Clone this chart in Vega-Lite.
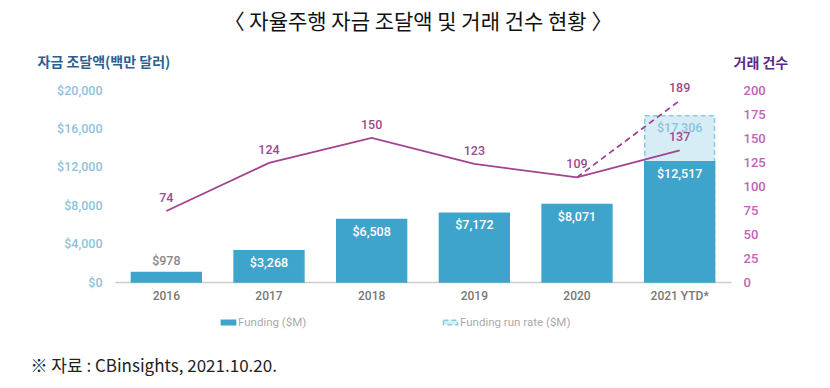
{
  "$schema": "https://vega.github.io/schema/vega-lite/v6.json",
  "autosize": "none",
  "width": 616,
  "height": 192,
  "padding": {"left": 115, "top": 90, "right": 99, "bottom": 106},
  "background": "white",
  "config": {"view": {"stroke": null}, "axis": {"labelOverlap": false}},
  "title": {
    "text": "〈 자율주행 자금 조달액 및 거래 건수 현황 〉",
    "anchor": "middle",
    "font": "Noto Sans CJK KR",
    "fontSize": 21,
    "fontWeight": "normal",
    "color": "#111",
    "offset": 22,
    "dx": -5
  },
  "datasets": {
    "bars": [
      {"year": "2021 YTD*", "type": "Funding run rate ($M)", "value": 17306},
      {"year": "2016", "type": "Funding ($M)", "value": 978},
      {"year": "2017", "type": "Funding ($M)", "value": 3268},
      {"year": "2018", "type": "Funding ($M)", "value": 6508},
      {"year": "2019", "type": "Funding ($M)", "value": 7172},
      {"year": "2020", "type": "Funding ($M)", "value": 8071},
      {"year": "2021 YTD*", "type": "Funding ($M)", "value": 12517}
    ],
    "counts": [
      {"year": "2016", "count": 74, "series": "actual"},
      {"year": "2017", "count": 124, "series": "actual"},
      {"year": "2018", "count": 150, "series": "actual"},
      {"year": "2019", "count": 123, "series": "actual"},
      {"year": "2020", "count": 109, "series": "actual"},
      {"year": "2021 YTD*", "count": 137, "series": "actual"},
      {"year": "2020", "count": 109, "series": "runrate"},
      {"year": "2021 YTD*", "count": 189, "series": "runrate"}
    ]
  },
  "encoding": {
    "x": {
      "field": "year",
      "type": "nominal",
      "sort": ["2016", "2017", "2018", "2019", "2020", "2021 YTD*"],
      "scale": {"paddingInner": 0.32, "paddingOuter": 0.16},
      "axis": {
        "labelAngle": 0,
        "ticks": false,
        "domainColor": "#cccccc",
        "domainWidth": 1.5,
        "labelColor": "#777777",
        "labelFont": "Roboto",
        "labelFontWeight": 500,
        "labelFontSize": 12,
        "labelPadding": 8,
        "title": "※ 자료 : CBinsights, 2021.10.20.",
        "titleFont": "Noto Sans CJK KR",
        "titleFontWeight": "normal",
        "titleFontSize": 17,
        "titleColor": "#222",
        "titleAlign": "left",
        "titleBaseline": "middle",
        "titleX": -85,
        "titleY": 84
      }
    }
  },
  "layer": [
    {
      "data": {"name": "bars"},
      "layer": [
        {
          "mark": {"type": "bar", "strokeWidth": 1.5},
          "encoding": {
            "y": {
              "field": "value",
              "type": "quantitative",
              "stack": null,
              "scale": {"domain": [0, 20000]},
              "axis": {
                "values": [0, 4000, 8000, 12000, 16000, 20000],
                "tickCount": 6,
                "labelOverlap": false,
                "format": "$,.0f",
                "grid": false,
                "domain": false,
                "ticks": false,
                "labelColor": "#8ec3dc",
                "labelFont": "Roboto",
                "labelFontWeight": 500,
                "labelFontSize": 12.5,
                "labelPadding": 13,
                "title": "자금 조달액(백만 달러)",
                "titleFont": "Noto Sans CJK KR",
                "titleFontSize": 14,
                "titleFontWeight": "bold",
                "titleColor": "#2f5f8f",
                "titleAngle": 0,
                "titleAlign": "left",
                "titleBaseline": "middle",
                "titleX": -78,
                "titleY": -28
              }
            },
            "fill": {
              "field": "type",
              "type": "nominal",
              "scale": {"domain": ["Funding ($M)", "Funding run rate ($M)"], "range": ["#3fa4cb", "#d7edf6"]},
              "legend": {
                "title": null,
                "orient": "none",
                "legendX": 107,
                "legendY": 226,
                "direction": "horizontal",
                "columnPadding": 133,
                "symbolType": "M-1.3,-0.4H1.3V0.4H-1.3Z",
                "symbolSize": 120,
                "symbolStrokeWidth": 1.5,
                "labelColor": "#aaaaaa",
                "labelFont": "Roboto",
                "labelFontSize": 11.5,
                "labelOffset": 3
              }
            },
            "stroke": {
              "field": "type",
              "type": "nominal",
              "scale": {"domain": ["Funding ($M)", "Funding run rate ($M)"], "range": ["#3fa4cb", "#8ccbe6"]}
            },
            "strokeDash": {
              "field": "type",
              "type": "nominal",
              "scale": {"domain": ["Funding ($M)", "Funding run rate ($M)"], "range": [[1, 0], [5, 3]]}
            }
          }
        },
        {
          "transform": [{"filter": "datum.value >= 2000"}],
          "mark": {"type": "text", "baseline": "top", "dy": 6, "font": "Roboto", "fontSize": 12.5, "fontWeight": 500},
          "encoding": {
            "y": {"field": "value", "type": "quantitative"},
            "text": {"field": "value", "type": "quantitative", "format": "$,.0f"},
            "color": {
              "condition": {"test": "datum.type === 'Funding run rate ($M)'", "value": "#86c4df"},
              "value": "white"
            }
          }
        },
        {
          "transform": [{"filter": "datum.value < 2000"}],
          "mark": {"type": "text", "baseline": "bottom", "dy": -5, "font": "Roboto", "fontSize": 12.5, "fontWeight": 500, "color": "#888888"},
          "encoding": {
            "y": {"field": "value", "type": "quantitative"},
            "text": {"field": "value", "type": "quantitative", "format": "$,.0f"}
          }
        }
      ]
    },
    {
      "data": {"name": "counts"},
      "layer": [
        {
          "transform": [{"filter": "datum.series === 'actual'"}],
          "mark": {"type": "line", "color": "#a2438f", "strokeWidth": 1.8},
          "encoding": {
            "y": {
              "field": "count",
              "type": "quantitative",
              "scale": {"domain": [0, 200]},
              "axis": {
                "orient": "right",
                "values": [0, 25, 50, 75, 100, 125, 150, 175, 200],
                "tickCount": 9,
                "labelOverlap": false,
                "grid": false,
                "domain": false,
                "ticks": false,
                "labelColor": "#c064b5",
                "labelFont": "Roboto",
                "labelFontWeight": 500,
                "labelFontSize": 13,
                "labelPadding": 12,
                "title": "거래 건수",
                "titleFont": "Noto Sans CJK KR",
                "titleFontSize": 14,
                "titleFontWeight": "bold",
                "titleColor": "#5a2a86",
                "titleAngle": 0,
                "titleAlign": "left",
                "titleBaseline": "middle",
                "titleX": 2,
                "titleY": -27
              }
            }
          }
        },
        {
          "transform": [{"filter": "datum.series === 'runrate'"}],
          "mark": {"type": "line", "color": "#a2438f", "strokeWidth": 1.8, "strokeDash": [6, 4]},
          "encoding": {"y": {"field": "count", "type": "quantitative"}}
        },
        {
          "transform": [{"filter": "!(datum.series === 'runrate' && datum.year === '2020')"}],
          "mark": {"type": "text", "baseline": "middle", "dy": -13, "font": "Roboto", "fontSize": 12.5, "fontWeight": 500, "color": "#9c4a8e"},
          "encoding": {
            "y": {"field": "count", "type": "quantitative"},
            "text": {"field": "count", "type": "quantitative"}
          }
        }
      ]
    }
  ],
  "resolve": {"scale": {"y": "independent"}}
}
